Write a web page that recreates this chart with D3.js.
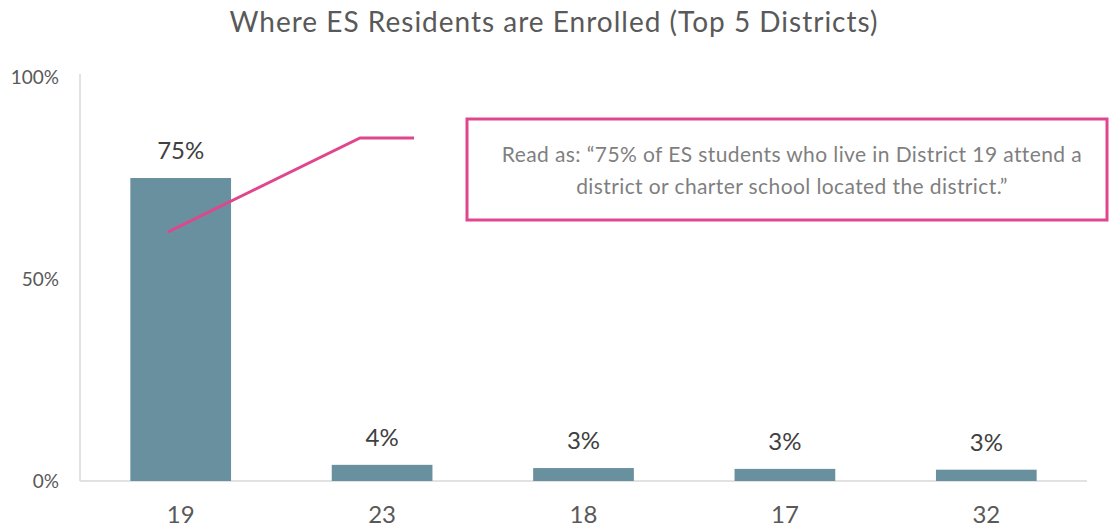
<!DOCTYPE html>
<html>
<head>
<meta charset="utf-8">
<script src="https://cdn.jsdelivr.net/npm/d3@7"></script>
<style>
  body { margin: 0; background: #fff; }
  svg { font-family: "Lato", "Open Sans", sans-serif; }
</style>
</head>
<body>
<svg width="1109" height="529"></svg>
<script>
// data
const districts = ["19", "23", "18", "17", "32"]
const shares = [0.75, 0.04, 0.032, 0.03, 0.028]
const shareLabels = ["75%", "4%", "3%", "3%", "3%"]
const yTicks = [0, 0.5, 1]
const title = "Where ES Residents are Enrolled (Top 5 Districts)"
const note = ["Read as: \u201c75% of ES students who live in District 19 attend a",
              "district or charter school located the district.\u201d"]

const svg = d3.select("svg")
const plotLeft = 80, plotRight = 1087, plotTop = 77, plotBottom = 481

const x = d3.scaleBand().domain(districts).range([plotLeft, plotRight]).paddingInner(0.5).paddingOuter(0.25)
const y = d3.scaleLinear().domain([0, 1]).range([plotBottom, plotTop])

// title
svg.append("text")
    .attr("x", 554).attr("y", 32)
    .attr("text-anchor", "middle")
    .attr("font-size", 28)
    .attr("letter-spacing", 1)
    .attr("fill", "#595959")
    .text(title)

// axis lines
svg.append("line")
    .attr("x1", plotLeft).attr("x2", plotLeft)
    .attr("y1", plotTop - 3).attr("y2", plotBottom)
    .attr("stroke", "#d9d9d9").attr("stroke-width", 1.5)
svg.append("line")
    .attr("x1", plotLeft).attr("x2", plotRight)
    .attr("y1", plotBottom).attr("y2", plotBottom)
    .attr("stroke", "#d9d9d9").attr("stroke-width", 1.5)

// y tick labels
svg.selectAll(".ytick")
    .data(yTicks).enter()
    .append("text")
    .attr("class", "ytick")
    .attr("x", 59)
    .attr("y", d => y(d))
    .attr("dy", "0.35em")
    .attr("text-anchor", "end")
    .attr("font-size", 19)
    .attr("fill", "#595959")
    .text(d => d3.format(".0%")(d))

// bars
svg.selectAll(".bar")
    .data(districts).enter()
    .append("rect")
    .attr("class", "bar")
    .attr("x", d => x(d))
    .attr("y", (d, i) => y(shares[i]))
    .attr("width", x.bandwidth())
    .attr("height", (d, i) => plotBottom - y(shares[i]))
    .attr("fill", "#68909e")

// value labels
svg.selectAll(".val")
    .data(districts).enter()
    .append("text")
    .attr("class", "val")
    .attr("x", d => x(d) + x.bandwidth() / 2)
    .attr("y", (d, i) => y(shares[i]) - 19)
    .attr("text-anchor", "middle")
    .attr("font-size", 24)
    .attr("fill", "#404040")
    .text((d, i) => shareLabels[i])

// category labels
svg.selectAll(".cat")
    .data(districts).enter()
    .append("text")
    .attr("class", "cat")
    .attr("x", d => x(d) + x.bandwidth() / 2)
    .attr("y", 523)
    .attr("text-anchor", "middle")
    .attr("font-size", 24)
    .attr("fill", "#595959")
    .text(d => d)

// callout
const pink = "#e0468e"
svg.append("polyline")
    .attr("points", "168,232 360,138 414,138")
    .attr("fill", "none")
    .attr("stroke", pink)
    .attr("stroke-width", 3)

svg.append("rect")
    .attr("x", 467).attr("y", 119)
    .attr("width", 640).attr("height", 101)
    .attr("fill", "none")
    .attr("stroke", pink)
    .attr("stroke-width", 3)

svg.selectAll(".note")
    .data(note).enter()
    .append("text")
    .attr("class", "note")
    .attr("x", 792)
    .attr("y", (d, i) => 162 + i * 32)
    .attr("text-anchor", "middle")
    .attr("font-size", 21)
    .attr("letter-spacing", 0.4)
    .attr("fill", "#7f7f7f")
    .text(d => d)
</script>
</body>
</html>
